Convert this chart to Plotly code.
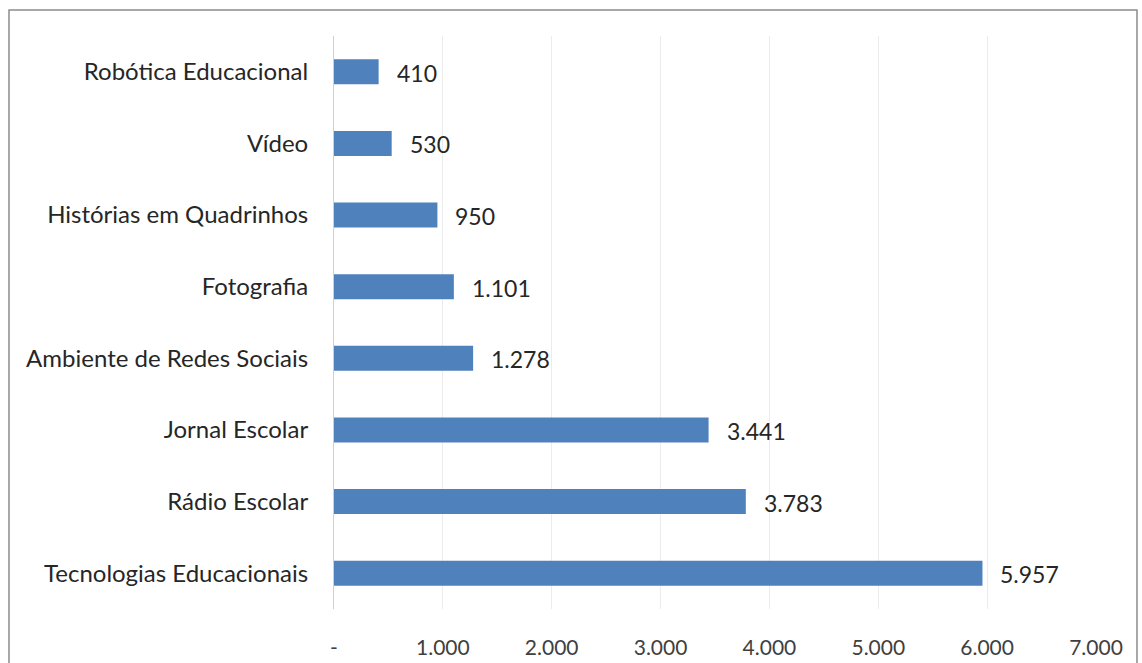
import plotly.graph_objects as go

categories = ["Tecnologias Educacionais", "Rádio Escolar", "Jornal Escolar",
              "Ambiente de Redes Sociais", "Fotografia", "Histórias em Quadrinhos",
              "Vídeo", "Robótica Educacional"]
values = [5957, 3783, 3441, 1278, 1101, 950, 530, 410]
value_labels = ["5.957", "3.783", "3.441", "1.278", "1.101", "950", "530", "410"]
tick_vals = [0, 1000, 2000, 3000, 4000, 5000, 6000, 7000]
tick_text = ["-", "1.000", "2.000", "3.000", "4.000", "5.000", "6.000", "7.000"]

FONT = "Lato, Open Sans, sans-serif"

fig = go.Figure(go.Bar(
    x=values, y=categories, orientation="h",
    marker=dict(color="#4f81bd", line=dict(width=0)),
    width=0.35,
))

for v, c, t in zip(values, categories, value_labels):
    fig.add_annotation(x=v, y=c, text=t, showarrow=False, xanchor="left",
                       xshift=16, yshift=-1, font=dict(family=FONT, size=23, color="#262626"))

L, R, T, B = 334, 46, 36, 54
W, H = 1142, 663
pw, ph = W - L - R, H - T - B
def px(x): return (x - L) / pw
def py(y): return (H - B - y) / ph

fig.add_shape(type="rect", xref="paper", yref="paper",
              x0=px(9), x1=px(1137), y0=py(680), y1=py(10),
              line=dict(color="#8c8c8c", width=1.5), layer="below")

fig.update_layout(
    width=W, height=H,
    margin=dict(l=L, r=R, t=T, b=B, autoexpand=False),
    paper_bgcolor="white", plot_bgcolor="white",
    showlegend=False,
    font=dict(family=FONT, color="#262626"),
    xaxis=dict(range=[0, 7000], tickvals=tick_vals, ticktext=tick_text,
               showgrid=True, gridcolor="#ececec", gridwidth=1,
               zeroline=False, showline=False, ticks="", automargin=False,
               tickfont=dict(size=21, color="#404040"), ticklabelstandoff=24),
    yaxis=dict(categoryorder="array", categoryarray=categories,
               showline=True, linecolor="#d0d0d0", linewidth=1, automargin=False,
               showgrid=False, ticks="", ticklabelstandoff=20,
               tickfont=dict(size=24, color="#262626")),
)

fig.write_html("out.html")
